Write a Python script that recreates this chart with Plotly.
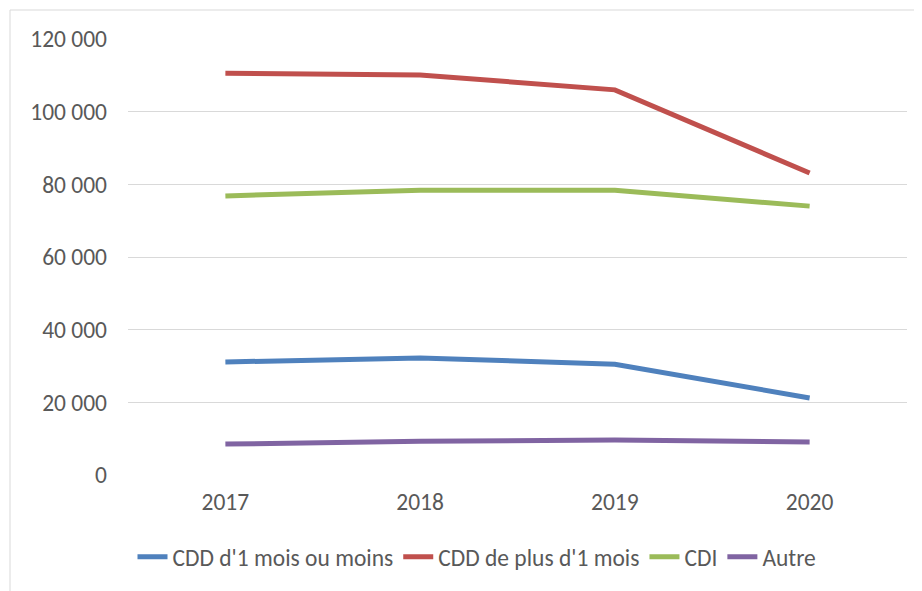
import plotly.graph_objects as go

years = [2017, 2018, 2019, 2020]
cdd_court = [31100, 32200, 30500, 21200]
cdd_long = [110600, 110100, 106000, 83100]
cdi = [76800, 78400, 78400, 74000]
autre = [8500, 9300, 9600, 9100]
y_ticks = [0, 20000, 40000, 60000, 80000, 100000, 120000]

series = [
    ("CDD d'1 mois ou moins", cdd_court, "#4F81BD"),
    ("CDD de plus d'1 mois", cdd_long, "#C0504D"),
    ("CDI", cdi, "#9BBB59"),
    ("Autre", autre, "#8064A2"),
]

fig = go.Figure()
for name, vals, col in series:
    fig.add_trace(go.Scatter(x=years, y=vals, name=name, mode="lines",
                             line=dict(color=col, width=5)))

# page has an 8px body margin; plot area target on page: x 128..907, y 39..475
L, T, PW, PH = 120, 31, 779, 436
font = "Carlito, Calibri, Lato, 'Liberation Sans', sans-serif"
fig.update_layout(
    width=922, height=591,
    margin=dict(l=L, r=922 - L - PW, t=T, b=591 - T - PH),
    paper_bgcolor="white", plot_bgcolor="white",
    separators=", ",
    font=dict(family=font, size=23.5, color="#595959"),
    showlegend=True,
    legend=dict(orientation="h", x=(469 - L) / PW, xanchor="center",
                y=(T + PH - 549) / PH, yanchor="middle",
                font=dict(size=23.5, color="#595959"), itemwidth=30, tracegroupgap=0),
    shapes=[dict(type="rect", xref="paper", yref="paper",
                 x0=(2 - L) / PW, x1=(960 - L) / PW,
                 y0=(T + PH - 640) / PH, y1=(T + PH - 2) / PH,
                 line=dict(color="#D9D9D9", width=1), layer="below")],
)
fig.update_xaxes(range=[2016.5, 2020.5], tickvals=years, showgrid=False, zeroline=False,
                 showline=False, ticks="", ticklabelstandoff=10,
                 tickfont=dict(size=23.5, color="#595959"))
fig.update_yaxes(range=[0, 120000], tickvals=y_ticks, tickformat=",", showgrid=True,
                 gridcolor="#D9D9D9", gridwidth=1, zeroline=False, showline=False,
                 ticks="", ticklabelstandoff=20,
                 tickfont=dict(size=23.5, color="#595959"))

fig.write_html("out.html")
